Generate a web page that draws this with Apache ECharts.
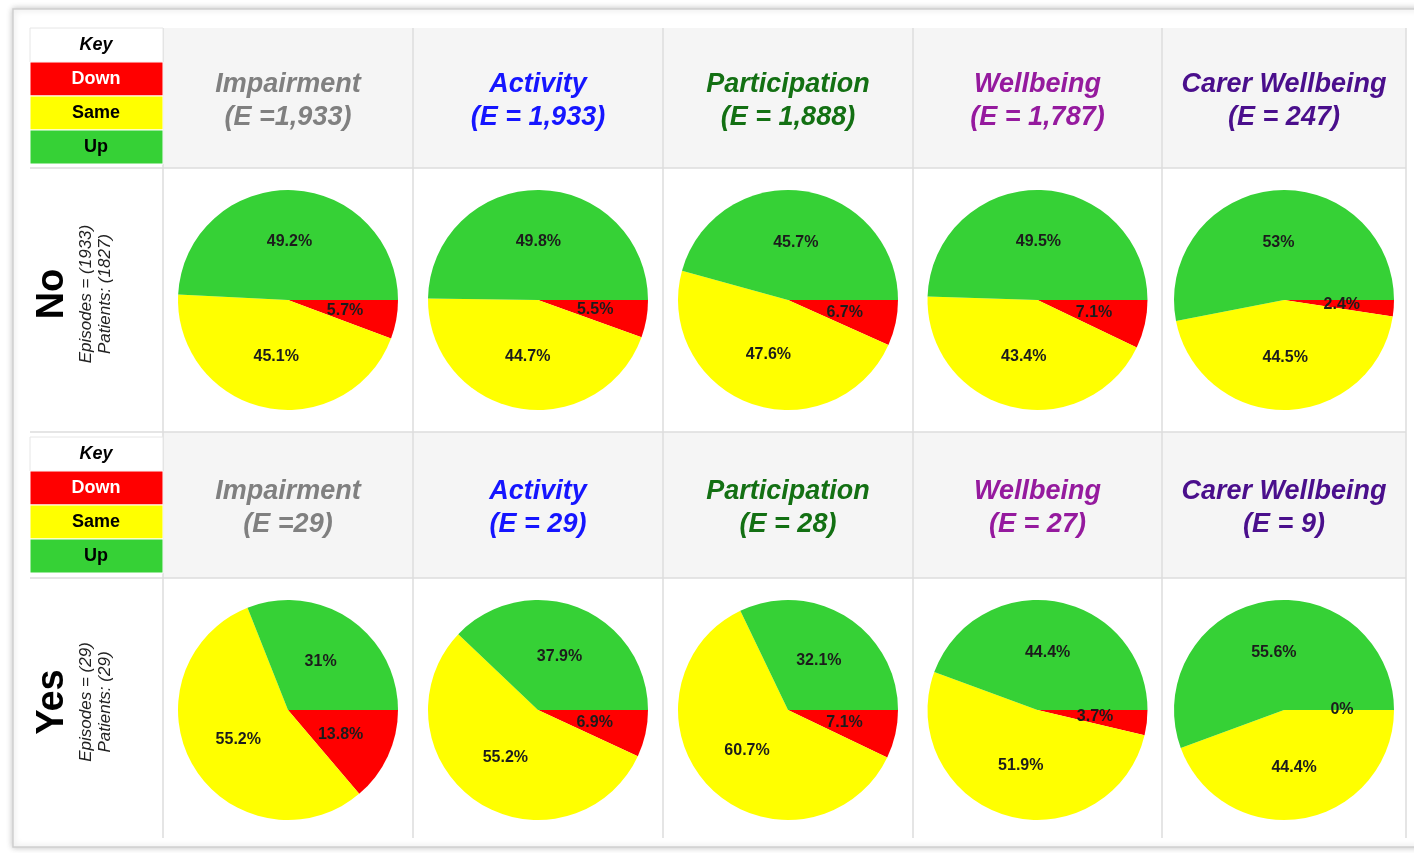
<!DOCTYPE html>
<html>
<head>
<meta charset="utf-8">
<script src="https://cdn.jsdelivr.net/npm/echarts@6/dist/echarts.min.js"></script>
<style>html,body{margin:0;padding:0;background:#fff;}#c{width:1414px;height:853px;}</style>
</head>
<body>
<div id="c"></div>
<script>
// ---- data ----
const categories = ['Down', 'Same', 'Up'];
const metrics = ['Impairment', 'Activity', 'Participation', 'Wellbeing', 'Carer Wellbeing'];
const headerNo = ['(E =1,933)', '(E = 1,933)', '(E = 1,888)', '(E = 1,787)', '(E = 247)'];
const headerYes = ['(E =29)', '(E = 29)', '(E = 28)', '(E = 27)', '(E = 9)'];
const rowNames = ['No', 'Yes'];
const rowEpisodes = ['Episodes = (1933)', 'Episodes = (29)'];
const rowPatients = ['Patients: (1827)', 'Patients: (29)'];
// values per metric: [Down, Same, Up] (percent)
const valuesNo = [
  [5.7, 45.1, 49.2],
  [5.5, 44.7, 49.8],
  [6.7, 47.6, 45.7],
  [7.1, 43.4, 49.5],
  [2.4, 44.5, 53]
];
const valuesYes = [
  [13.8, 55.2, 31],
  [6.9, 55.2, 37.9],
  [7.1, 60.7, 32.1],
  [3.7, 51.9, 44.4],
  [0, 44.4, 55.6]
];

// ---- styles / layout ----
const sliceColors = ['#ff0000', '#ffff00', '#36d136'];
const metricColors = ['#808080', '#1515ff', '#137013', '#951a9e', '#4a0f8c'];
const FONT = 'Arial, "Liberation Sans", sans-serif';
const colX = [163, 413, 663, 913, 1162, 1406];
const rows = [
  {hTop: 28, hBot: 168, pBot: 432, keyTop: 28, header: headerNo, values: valuesNo},
  {hTop: 432, hBot: 578, pBot: 838, keyTop: 437, header: headerYes, values: valuesYes}
];
const lineColor = '#dcdcdc';

const graphics = [];
// outer panel
graphics.push({type: 'rect', z: -10, shape: {x: 13, y: 9, width: 1410, height: 838},
  style: {fill: '#fff', stroke: '#cfcfcf', lineWidth: 1.5, shadowBlur: 6, shadowColor: 'rgba(0,0,0,0.22)'}});

rows.forEach((r, ri) => {
  // header background
  graphics.push({type: 'rect', z: -5, shape: {x: colX[0], y: r.hTop, width: colX[5] - colX[0], height: r.hBot - r.hTop},
    style: {fill: '#f5f5f5'}});
  // horizontal lines
  graphics.push({type: 'line', z: -4, shape: {x1: 30, y1: r.hBot, x2: colX[5], y2: r.hBot}, style: {stroke: lineColor, lineWidth: 1.5}});
  if (ri === 0) {
    graphics.push({type: 'line', z: -4, shape: {x1: 30, y1: r.pBot, x2: colX[5], y2: r.pBot}, style: {stroke: lineColor, lineWidth: 1.5}});
  }
  // vertical lines
  colX.forEach((x) => {
    graphics.push({type: 'line', z: -4, shape: {x1: x, y1: r.hTop, x2: x, y2: r.pBot}, style: {stroke: lineColor, lineWidth: 1.5}});
  });
  // key box
  const kt = r.keyTop, kh = 34;
  graphics.push({type: 'rect', z: -3, shape: {x: 30, y: kt, width: 133, height: kh}, style: {fill: '#fff', stroke: '#e6e6e6'}});
  graphics.push({type: 'text', style: {text: 'Key', x: 96, y: kt + kh / 2, textAlign: 'center', textVerticalAlign: 'middle',
    font: 'italic bold 18px ' + FONT, fill: '#000'}});
  categories.forEach((c, ci) => {
    const y = kt + kh * (ci + 1);
    graphics.push({type: 'rect', z: -3, shape: {x: 30, y: y, width: 133, height: kh}, style: {fill: sliceColors[ci], stroke: '#fff', lineWidth: 1}});
    graphics.push({type: 'text', style: {text: c, x: 96, y: y + kh / 2, textAlign: 'center', textVerticalAlign: 'middle',
      font: 'bold 18px ' + FONT, fill: ci === 0 ? '#fff' : '#000'}});
  });
  // headers
  metrics.forEach((m, mi) => {
    const cx = (colX[mi] + colX[mi + 1]) / 2;
    const cy = (r.hTop + r.hBot) / 2 + 3;
    graphics.push({type: 'text', style: {text: m, x: cx, y: cy - 16, textAlign: 'center', textVerticalAlign: 'middle',
      font: 'italic bold 27px ' + FONT, fill: metricColors[mi]}});
    graphics.push({type: 'text', style: {text: r.header[mi], x: cx, y: cy + 17, textAlign: 'center', textVerticalAlign: 'middle',
      font: 'italic bold 27px ' + FONT, fill: metricColors[mi]}});
  });
  // row labels (rotated)
  const my = (r.hBot + r.pBot) / 2 - 6;
  graphics.push({type: 'text', x: 53, y: my, rotation: Math.PI / 2,
    style: {text: rowNames[ri], x: 0, y: 0, textAlign: 'center', textVerticalAlign: 'middle', font: 'bold 38px ' + FONT, fill: '#000'}});
  graphics.push({type: 'text', x: 86, y: my, rotation: Math.PI / 2,
    style: {text: rowEpisodes[ri], x: 0, y: 0, textAlign: 'center', textVerticalAlign: 'middle', font: 'italic 17px ' + FONT, fill: '#222'}});
  graphics.push({type: 'text', x: 105, y: my, rotation: Math.PI / 2,
    style: {text: rowPatients[ri], x: 0, y: 0, textAlign: 'center', textVerticalAlign: 'middle', font: 'italic 17px ' + FONT, fill: '#222'}});
});

const series = [];
rows.forEach((r, ri) => {
  const cy = ri === 0 ? 300 : 710;
  r.values.forEach((vals, mi) => {
    const cx = (colX[mi] + colX[mi + 1]) / 2;
    series.push({
      type: 'pie',
      name: metrics[mi] + ' ' + rowNames[ri],
      center: [cx, cy],
      radius: 110,
      startAngle: 0,
      clockwise: true,
      animation: false,
      silent: true,
      avoidLabelOverlap: false,
      label: {show: true, position: 'inner', formatter: '{c}%', fontFamily: FONT, fontSize: 16, fontWeight: 'bold', color: '#1c1c1c'},
      labelLine: {show: false},
      itemStyle: {borderWidth: 0},
      data: categories.map((c, ci) => ({name: c, value: vals[ci], itemStyle: {color: sliceColors[ci]}}))
    });
  });
});

const chart = echarts.init(document.getElementById('c'), null, {renderer: 'canvas'});
chart.setOption({
  backgroundColor: '#fff',
  animation: false,
  graphic: {elements: graphics},
  series: series
});
</script>
</body>
</html>
